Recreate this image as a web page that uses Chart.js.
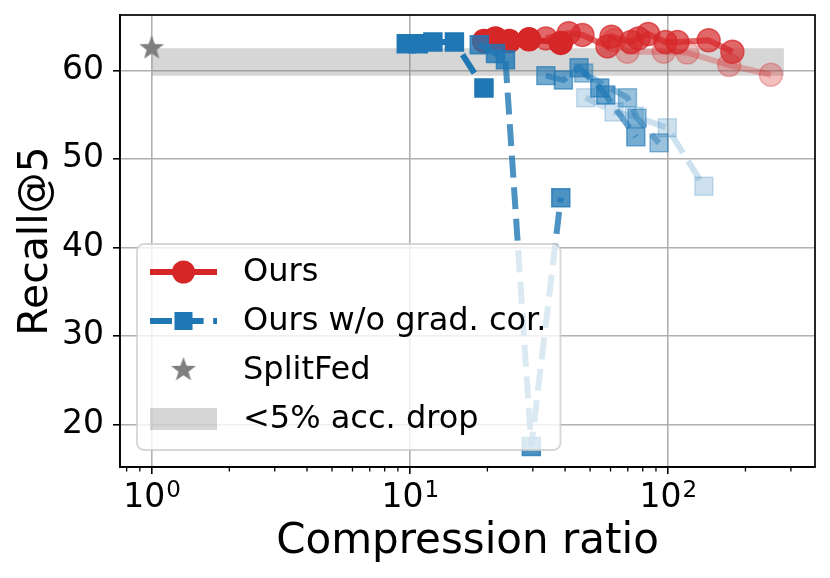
<!DOCTYPE html>
<html><head><meta charset="utf-8">
<script src="https://cdn.jsdelivr.net/npm/chart.js@4.4.0/dist/chart.umd.min.js"></script>
<style>html,body{margin:0;padding:0;background:#fff;}canvas{display:block;}</style>
</head><body>
<canvas id="c" width="830" height="578"></canvas>
<script>
// ---- data ----
const redAX = [19.4, 21.5, 24.3, 29.0, 38.5];
const redAY = [63.3, 63.6, 63.3, 63.5, 63.1];
const redBX = [33.7, 41.3, 46.7, 58.4, 60.5, 72, 77, 84, 98, 109, 144, 178];
const redBY = [63.6, 64.2, 64.0, 62.7, 63.8, 63.2, 63.6, 64.1, 63.2, 63.2, 63.4, 62.1];
const redCX = [62, 69.8, 96.5, 119, 173, 251];
const redCY = [63.4, 62.1, 62.1, 62.0, 60.6, 59.5];

const blueAX = [9.7, 10.8, 12.3, 14.9, 19.4];
const blueAY = [63.0, 63.0, 63.2, 63.2, 58.0];
const blueBX = [18.6, 21.5, 23.5, 29.6, 38.5];
const blueBY = [62.9, 61.9, 61.2, 17.5, 45.6];
const blueCX = [33.7, 39.4, 45.3, 54.5, 57.5, 75.2];
const blueCY = [59.4, 58.9, 60.3, 58.0, 57.2, 52.5];
const blueDX = [47.2, 69.8, 76, 92.5];
const blueDY = [59.7, 56.9, 54.6, 51.8];
const blueEX = [48.1, 61.9, 74.1, 99.6, 138];
const blueEY = [56.9, 55.3, 54.8, 53.5, 46.9];

const splitFedX = [1];
const splitFedY = [62.5];
const bandX = [1, 282];
const bandTop = 62.5;
const bandBottom = 59.4;

const xMajorTicks = [1, 10, 100];
const xMajorBase = '10';
const xMajorExp = ['0', '1', '2'];
const xMinorTicks = [0.8, 0.9, 2, 3, 4, 5, 6, 7, 8, 9, 20, 30, 40, 50, 60, 70, 80, 90, 200, 300];
const yTicks = [20, 30, 40, 50, 60];
const legendLabels = ['Ours', 'Ours w/o grad. cor.', 'SplitFed', '<5% acc. drop'];

const RED = [214, 39, 40], BLUE = [31, 119, 180], GRAY = '#7f7f7f';
const rgba = (c, a) => `rgba(${c[0]},${c[1]},${c[2]},${a})`;
const pts = (xs, ys) => xs.map((x, i) => ({x, y: ys[i]}));

function series(xs, ys, col, a, kind, order) {
  const isRed = kind === 'red';
  return {
    data: pts(xs, ys), showLine: true, order,
    borderColor: rgba(col, a), borderWidth: 6,
    borderDash: isRed ? [] : [22, 9.6],
    pointStyle: isRed ? 'circle' : 'rect',
    pointRadius: isRed ? 11.5 : 12.7,
    pointBackgroundColor: rgba(col, a), pointBorderColor: rgba(col, a),
    pointBorderWidth: 1.5, tension: 0, fill: false
  };
}

function makeStar(R, r, color) {
  const s = Math.ceil(2 * R + 2);
  const c = document.createElement('canvas'); c.width = s; c.height = s;
  const g = c.getContext('2d'); g.fillStyle = color; g.beginPath();
  for (let i = 0; i < 10; i++) {
    const rad = i % 2 ? r : R, an = -Math.PI / 2 + i * Math.PI / 5;
    const px = s / 2 + rad * Math.cos(an), py = s / 2 + rad * Math.sin(an);
    i ? g.lineTo(px, py) : g.moveTo(px, py);
  }
  g.closePath(); g.fill(); return c;
}
const star = makeStar(13, 5.3, GRAY);

const datasets = [
  {data: pts(bandX, bandX.map(() => bandTop)), order: 100, borderWidth: 0, pointRadius: 0,
   showLine: true, fill: {value: bandBottom}, backgroundColor: 'rgba(128,128,128,0.32)', borderColor: 'rgba(0,0,0,0)'},
  series(redCX, redCY, RED, 0.3, 'red', 60),
  series(redBX, redBY, RED, 0.7, 'red', 59),
  series(redAX, redAY, RED, 1.0, 'red', 58),
  series(blueEX, blueEY, BLUE, 0.22, 'blue', 40),
  series(blueDX, blueDY, BLUE, 0.45, 'blue', 39),
  series(blueCX, blueCY, BLUE, 0.62, 'blue', 38),
  series(blueBX, blueBY, BLUE, 0.8, 'blue', 37),
  series(blueAX, blueAY, BLUE, 1.0, 'blue', 36),
  {data: pts(splitFedX, splitFedY), order: 1, showLine: false, pointStyle: star, pointRadius: 13,
   borderColor: GRAY, backgroundColor: GRAY}
];

const FONT = 'DejaVu Sans';

const overlay = {
  id: 'overlay',
  afterDatasetsDraw(chart) {
    const {ctx, chartArea: ca} = chart;
    ctx.save();
    ctx.font = `32px "${FONT}"`;
    const textW = Math.max(...legendLabels.map(t => ctx.measureText(t).width));
    const x0 = ca.left + 17, y1 = ca.bottom - 17, h = 206, w = 106 + textW + 14, y0 = y1 - h;
    const r = 7;
    ctx.beginPath();
    ctx.moveTo(x0 + r, y0); ctx.lineTo(x0 + w - r, y0); ctx.arcTo(x0 + w, y0, x0 + w, y0 + r, r);
    ctx.lineTo(x0 + w, y1 - r); ctx.arcTo(x0 + w, y1, x0 + w - r, y1, r);
    ctx.lineTo(x0 + r, y1); ctx.arcTo(x0, y1, x0, y1 - r, r);
    ctx.lineTo(x0, y0 + r); ctx.arcTo(x0, y0, x0 + r, y0, r); ctx.closePath();
    ctx.fillStyle = 'rgba(255,255,255,0.8)'; ctx.fill();
    ctx.strokeStyle = 'rgba(204,204,204,0.8)'; ctx.lineWidth = 1.8; ctx.stroke();
    const hx0 = x0 + 13, hx1 = x0 + 80, hc = (hx0 + hx1) / 2;
    legendLabels.forEach((t, i) => {
      const cy = y0 + 28 + i * 49;
      if (i === 0) {
        ctx.strokeStyle = rgba(RED, 1); ctx.lineWidth = 6; ctx.setLineDash([]);
        ctx.beginPath(); ctx.moveTo(hx0, cy); ctx.lineTo(hx1, cy); ctx.stroke();
        ctx.fillStyle = rgba(RED, 1); ctx.beginPath(); ctx.arc(hc, cy, 11.5, 0, Math.PI * 2); ctx.fill();
      } else if (i === 1) {
        ctx.strokeStyle = rgba(BLUE, 1); ctx.lineWidth = 6; ctx.setLineDash([22, 9.6]);
        ctx.beginPath(); ctx.moveTo(hx0, cy); ctx.lineTo(hx1, cy); ctx.stroke(); ctx.setLineDash([]);
        ctx.fillStyle = rgba(BLUE, 1); ctx.fillRect(hc - 9, cy - 9, 18, 18);
      } else if (i === 2) {
        ctx.drawImage(star, hc - star.width / 2, cy - star.height / 2);
      } else {
        ctx.fillStyle = 'rgba(128,128,128,0.32)'; ctx.fillRect(hx0, cy - 11, hx1 - hx0, 22);
      }
      ctx.fillStyle = '#000'; ctx.textBaseline = 'middle'; ctx.textAlign = 'left';
      ctx.fillText(t, x0 + 106, cy + 1);
    });
    ctx.restore();
  },
  afterDraw(chart) {
    const {ctx, chartArea: ca} = chart;
    const xs = chart.scales.x;
    ctx.save();
    ctx.strokeStyle = '#000'; ctx.lineWidth = 1.3;
    xMinorTicks.forEach(v => {
      const px = xs.getPixelForValue(v);
      ctx.beginPath(); ctx.moveTo(px, ca.bottom); ctx.lineTo(px, ca.bottom + 4.5); ctx.stroke();
    });
    ctx.lineWidth = 1.7;
    ctx.strokeRect(ca.left, ca.top, ca.right - ca.left, ca.bottom - ca.top);
    // major x tick labels: base with raised exponent
    ctx.fillStyle = '#000'; ctx.textBaseline = 'alphabetic'; ctx.textAlign = 'left';
    xMajorTicks.forEach((v, i) => {
      const px = xs.getPixelForValue(v);
      ctx.font = `33px "${FONT}"`; const wb = ctx.measureText(xMajorBase).width;
      ctx.font = `23px "${FONT}"`; const we = ctx.measureText(xMajorExp[i]).width;
      const sx = px - (wb + we) / 2, base = ca.bottom + 40;
      ctx.font = `33px "${FONT}"`; ctx.fillText(xMajorBase, sx, base);
      ctx.font = `23px "${FONT}"`; ctx.fillText(xMajorExp[i], sx + wb + 1, base - 10);
    });
    ctx.restore();
  }
};

new Chart(document.getElementById('c'), {
  type: 'line',
  data: {datasets},
  options: {
    responsive: false, animation: false, devicePixelRatio: 1,
    layout: {padding: {top: 15, right: 15, left: 0, bottom: 0}},
    plugins: {legend: {display: false}, tooltip: {enabled: false}},
    scales: {
      x: {
        type: 'logarithmic', min: 0.754, max: 372,
        afterBuildTicks: s => { s.ticks = xMinorTicks.concat(xMajorTicks).sort((a, b) => a - b).map(v => ({value: v})); },
        afterFit: s => { s.height = 111; s.paddingLeft = 0; s.paddingRight = 0; },
        ticks: {
          autoSkip: false, maxRotation: 0, minRotation: 0, color: '#000', padding: 6,
          font: {family: FONT, size: 33},
          callback: () => ''
        },
        grid: {
          color: c => (c.tick && xMajorTicks.includes(c.tick.value)) ? '#b0b0b0' : 'rgba(0,0,0,0)',
          tickColor: c => (c.tick && xMajorTicks.includes(c.tick.value)) ? '#000' : 'rgba(0,0,0,0)',
          lineWidth: 1.6, tickLength: 7, tickWidth: 1.6
        },
        border: {display: true, color: '#000', width: 1.7},
        title: {display: true, text: 'Compression ratio', color: '#000', font: {family: FONT, size: 42}, padding: {top: 0, bottom: 11}}
      },
      y: {
        type: 'linear', min: 15.18, max: 66.25,
        afterBuildTicks: s => { s.ticks = yTicks.map(v => ({value: v})); },
        afterFit: s => { s.width = 120; s.paddingTop = 0; s.paddingBottom = 0; },
        ticks: {color: '#000', padding: 9, font: {family: FONT, size: 33}, callback: v => String(v)},
        grid: {color: '#b0b0b0', lineWidth: 1.6, tickLength: 7, tickWidth: 1.6, tickColor: '#000'},
        border: {display: true, color: '#000', width: 1.7},
        title: {display: true, text: 'Recall@5', color: '#000', font: {family: FONT, size: 41}, padding: {top: 12, bottom: 0}}
      }
    }
  },
  plugins: [overlay]
});
</script>
</body></html>
